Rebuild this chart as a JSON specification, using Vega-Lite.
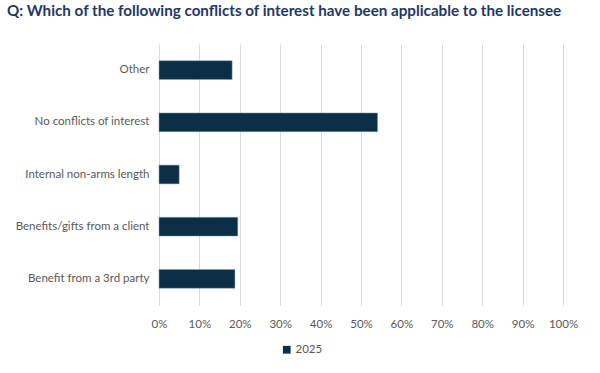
{
  "$schema": "https://vega.github.io/schema/vega-lite/v6.json",
  "width": 404,
  "height": 261,
  "autosize": {"type": "none"},
  "padding": {"left": 159, "top": 44, "right": 37, "bottom": 68},
  "background": "white",
  "title": {
    "text": "Q: Which of the following conflicts of interest have been applicable to the licensee",
    "anchor": "start",
    "frame": "group",
    "dx": -152,
    "offset": 25,
    "font": "Lato",
    "fontSize": 15.2,
    "fontWeight": "bold",
    "color": "#1F3864"
  },
  "data": {
    "values": [
      {"category": "Other", "series": "2025", "value": 0.181},
      {"category": "No conflicts of interest", "series": "2025", "value": 0.541},
      {"category": "Internal non-arms length", "series": "2025", "value": 0.05},
      {"category": "Benefits/gifts from a client", "series": "2025", "value": 0.195},
      {"category": "Benefit from a 3rd party", "series": "2025", "value": 0.188}
    ]
  },
  "mark": {"type": "bar", "stroke": "#8FA3B0", "strokeWidth": 0.5},
  "encoding": {
    "y": {
      "field": "category",
      "type": "nominal",
      "sort": null,
      "scale": {"paddingInner": 0.64, "paddingOuter": 0.32},
      "axis": {
        "title": null,
        "domain": false,
        "ticks": false,
        "grid": false,
        "labelPadding": 10,
        "labelFont": "Lato",
        "labelFontSize": 11.5,
        "labelColor": "#595959",
        "labelLimit": 200
      }
    },
    "x": {
      "field": "value",
      "type": "quantitative",
      "scale": {"domain": [0, 1], "nice": false},
      "axis": {
        "title": null,
        "format": ".0%",
        "values": [0, 0.1, 0.2, 0.3, 0.4, 0.5, 0.6, 0.7, 0.8, 0.9, 1.0],
        "domain": false,
        "ticks": false,
        "grid": true,
        "gridColor": "#D9D9D9",
        "gridWidth": 1,
        "labelOverlap": false,
        "labelFlush": false,
        "labelPadding": 13,
        "labelFont": "Lato",
        "labelFontSize": 11.5,
        "labelColor": "#595959"
      }
    },
    "color": {
      "field": "series",
      "type": "nominal",
      "scale": {"range": ["#0B2F46"]},
      "legend": {
        "title": null,
        "orient": "none",
        "legendX": 122,
        "legendY": 300,
        "symbolType": "square",
        "symbolSize": 60,
        "symbolStrokeWidth": 0,
        "labelFont": "Lato",
        "labelFontSize": 11.5,
        "labelColor": "#595959",
        "labelOffset": 3
      }
    }
  },
  "config": {"view": {"stroke": null}}
}
